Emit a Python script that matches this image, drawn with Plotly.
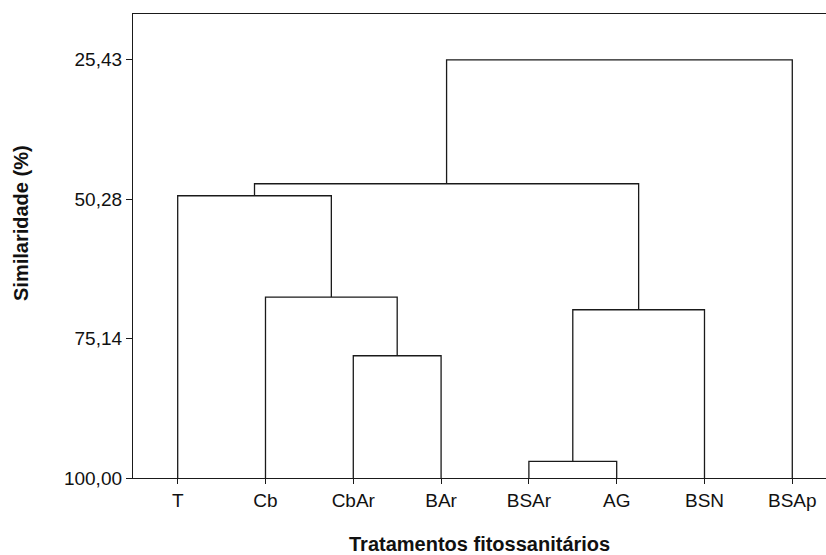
import plotly.graph_objects as go

# ---- data ----
leaves = ["T", "Cb", "CbAr", "BAr", "BSAr", "AG", "BSN", "BSAp"]
# merges: (left cluster id, right cluster id, similarity %) ; leaf ids 0..7, new clusters 8..
merge_left = [4, 2, 8, 1, 0, 12, 13]
merge_right = [5, 3, 6, 9, 11, 10, 7]
merge_height = [97.04, 78.20, 70.00, 67.73, 49.67, 47.53, 25.43]
ytick_vals = [25.43, 50.28, 75.14, 100.00]
ytick_text = ["25,43", "50,28", "75,14", "100,00"]

# ---- build dendrogram segments ----
pos = {i: i + 1 for i in range(len(leaves))}
hgt = {i: 100.0 for i in range(len(leaves))}
xs, ys = [], []
for k, (a, b, h) in enumerate(zip(merge_left, merge_right, merge_height)):
    cid = len(leaves) + k
    xs += [pos[a], pos[a], pos[b], pos[b], None]
    ys += [hgt[a], h, h, hgt[b], None]
    pos[cid] = (pos[a] + pos[b]) / 2
    hgt[cid] = h

line_col = "#1a1a1a"
fig = go.Figure()
fig.add_trace(go.Scatter(x=xs, y=ys, mode="lines",
                         line=dict(color=line_col, width=1.3),
                         hoverinfo="skip", showlegend=False))

font_family = "Liberation Sans, Arial, sans-serif"
fig.update_layout(
    width=826, height=555,
    margin=dict(l=133, r=0, t=14, b=77),
    paper_bgcolor="white", plot_bgcolor="white",
    font=dict(family=font_family, size=19, color="#111111"),
    showlegend=False,
    xaxis=dict(range=[0.491, 8.384], tickvals=list(range(1, len(leaves) + 1)),
               ticktext=leaves, showgrid=False, zeroline=False,
               showline=True, linecolor=line_col, linewidth=1.3, mirror=True,
               ticks="outside", ticklen=5, tickwidth=1.3, tickcolor=line_col,
               tickfont=dict(size=19)),
    yaxis=dict(range=[100, 17.26], tickvals=ytick_vals, ticktext=ytick_text,
               showgrid=False, zeroline=False,
               showline=True, linecolor=line_col, linewidth=1.3,
               ticks="outside", ticklen=6, tickwidth=1.3, tickcolor=line_col,
               tickfont=dict(size=19)),
    annotations=[
        dict(text="<b>Tratamentos fitossanitários</b>", xref="paper", yref="paper",
             x=0.5, y=-0.1425, xanchor="center", yanchor="middle",
             showarrow=False, font=dict(size=20)),
        dict(text="<b>Similaridade (%)</b>", xref="paper", yref="paper",
             x=-0.1616, y=0.5496, xanchor="center", yanchor="middle",
             textangle=-90, showarrow=False, font=dict(size=20)),
    ],
)

fig.write_html("out.html")
